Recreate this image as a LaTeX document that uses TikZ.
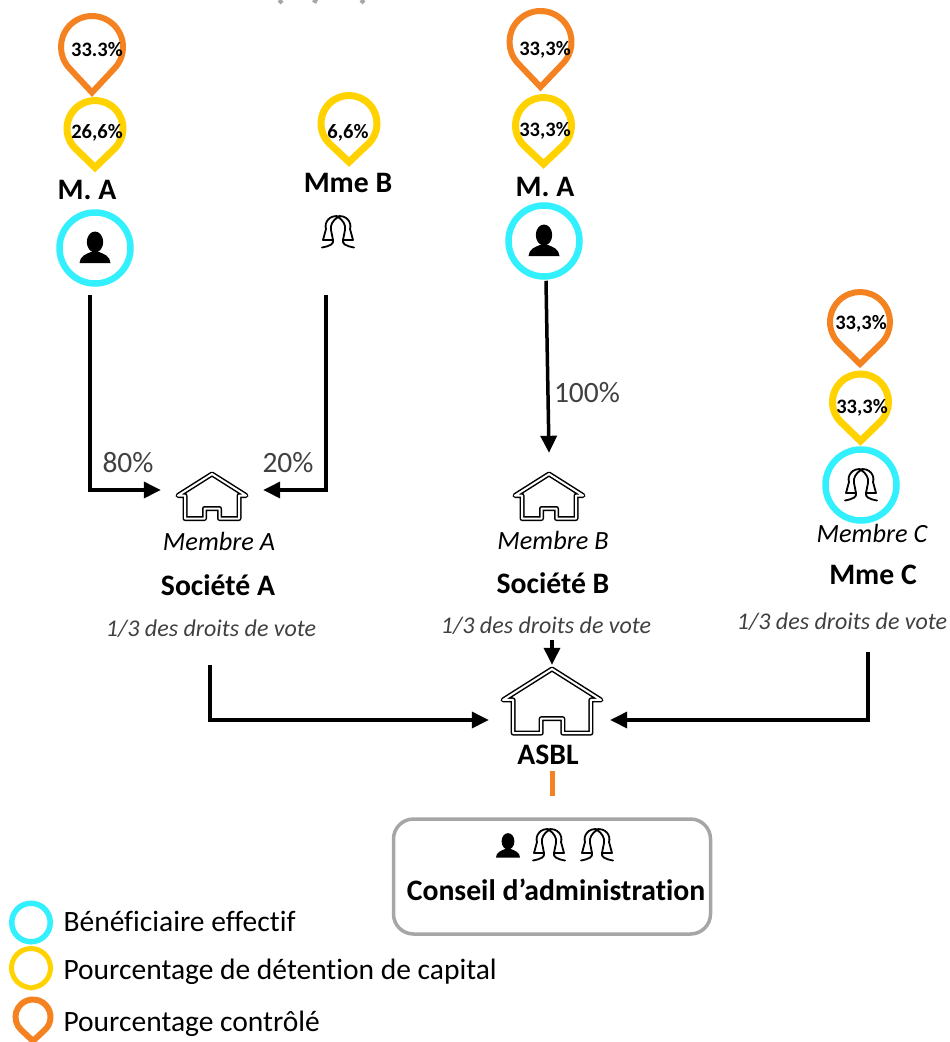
\documentclass[tikz,border=0pt]{standalone}
\usepackage{fontspec}
\setmainfont[Ligatures=CommonOff]{Carlito}
\usetikzlibrary{calc}
\usetikzlibrary{arrows.meta}
\definecolor{pinorange}{HTML}{F58220}
\definecolor{pinyellow}{HTML}{FFD200}
\definecolor{ringcyan}{HTML}{33F0FF}
\definecolor{boardgray}{HTML}{A6A6A6}
\definecolor{notegray}{HTML}{404040}
\tikzset{
	pin marker/.pic={
		\tikzset{%
			/pin/.cd,
			#1
		}
		\pgfmathsetmacro{\pinangle}{acos(\pinr/\pintip)}
		\draw [pic actions, line join=miter]
		(0,\pintip) -- (90-\pinangle:\pinr) arc [start angle=90-\pinangle, end angle=90+\pinangle-360, radius=\pinr] -- cycle;
	},
	/pin/.search also={/tikz},
	/pin/.cd,
	radius/.store in=\pinr,
	tip/.store in=\pintip,
	radius=28,
	tip=44,
}
\tikzset{
	person icon/.pic={
		\fill (0,-6) ellipse [x radius=8.2, y radius=10.5];
		\fill (-15.5,15) .. controls (-15,8) and (-9,6) .. (-4,4) -- (4,4) .. controls (9,6) and (15,8) .. (15.5,15) -- cycle;
	},
	woman icon/.pic={
		\draw [line width=1.8pt, line cap=round, line join=round]
		(2,-15.5) .. controls (-9,-18) and (-14,-9) .. (-12,-3) -- (-15,8) -- (-5,8) .. controls (-4,12) and (-8,14) .. (-16,15.5)
		(-2,-15.5) .. controls (9,-18) and (14,-9) .. (12,-3) -- (15,8) -- (5,8) .. controls (4,12) and (8,14) .. (16,15.5)
		(0,-15) .. controls (-5,-12) and (-8,-7) .. (-7,-2) -- (-5,8)
		(0,-15) .. controls (5,-12) and (8,-7) .. (7,-2) -- (5,8);
	},
	house icon/.pic={
		\draw [double, double distance=2pt, line width=1.5pt, line join=round]
		(0,0) -- (34,21.5) -- (27,21.5) -- (27,44.5) -- (7.5,44.5) -- (7.5,34.5) -- (-7.5,34.5) -- (-7.5,44.5) -- (-27,44.5) -- (-27,21.5) -- (-34,21.5) -- cycle;
	},
	orange pin/.style={draw=pinorange, line width=6pt},
	yellow pin/.style={draw=pinyellow, line width=7pt},
	cyan ring/.style={circle, draw=ringcyan, line width=6.5pt, minimum size=71pt, inner sep=0pt},
	house spot/.style={minimum width=72pt, minimum height=32pt, inner sep=0pt},
	percent/.style={font=\fontsize{20.5}{24}\selectfont\bfseries},
	owner/.style={font=\fontsize{29.7}{34}\selectfont\bfseries},
	member/.style={font=\fontsize{26.3}{30}\selectfont\itshape},
	votes/.style={font=\fontsize{24}{28}\selectfont\itshape, text=notegray},
	share/.style={font=\fontsize{29.5}{34}\selectfont, text=notegray},
	legend/.style={font=\fontsize{29.5}{34}\selectfont, anchor=west},
	flow/.style={line width=3.5pt, -{Triangle[length=17pt,width=16pt]}},
}
\begin{document}
\begin{tikzpicture}[x=1pt,y=-1pt]
	\useasboundingbox (0,0) rectangle (950,1042);
	\draw [boardgray, line width=4pt] (279,0) -- (282,3) (313,0) -- (317,2) (364,0) -- (361,3);
	% pins
	\pic [orange pin] at (92,47) {pin marker={radius=31,tip=45.5}};
	\pic [yellow pin] at (95,128.5) {pin marker={radius=28,tip=39}};
	\pic [yellow pin] at (349,123.5) {pin marker={radius=28,tip=38.5}};
	\pic [orange pin] at (540.5,42) {pin marker={radius=31,tip=45}};
	\pic [yellow pin] at (543.5,125.5) {pin marker={radius=28,tip=38.5}};
	\pic [orange pin] at (860,322) {pin marker={radius=30,tip=42}};
	\pic [yellow pin] at (860.5,402) {pin marker={radius=28,tip=39}};
	\node [percent] (pctAo) at (97,50) {33.3\%};
	\node [percent] (pctAy) at (97,133) {26,6\%};
	\node [percent] (pctBy) at (348,133) {6,6\%};
	\node [percent] (pctDo) at (545,50) {33,3\%};
	\node [percent] (pctDy) at (545,131) {33,3\%};
	\node [percent] (pctCo) at (861,324) {33,3\%};
	\node [percent] (pctCy) at (862,408) {33,3\%};
	% people
	\node [owner] (nameA) at (87,190) {M. A};
	\node [owner] (nameB) at (348,183) {Mme B};
	\node [owner] (nameD) at (545,187) {M. A};
	\node [cyan ring] (mA) at (95,248) {};
	\pic at (mA) {person icon};
	\coordinate (mB) at (338,232);
	\pic at (mB) {woman icon};
	\node [cyan ring] (mD) at (544,241) {};
	\pic at (mD) {person icon};
	\node [cyan ring] (mC) at (861,485) {};
	\pic at (mC) {woman icon};
	% companies
	\node [house spot] (socA) at (212,490) {};
	\pic at (212,474) {house icon};
	\node [house spot] (socB) at (549,490) {};
	\pic at (549,474) {house icon};
	\node [house spot, minimum width=91pt] (asbl) at (549.5,720) {};
	\pic [scale=1.44] at (552,669) {house icon};
	\node [member] (memA) at (219,541) {Membre A};
	\node [owner] (nameSA) at (218,585) {Société A};
	\node [votes] (voteA) at (211,629) {1/3 des droits de vote};
	\node [member] (memB) at (553,540) {Membre B};
	\node [owner] (nameSB) at (553,583) {Société B};
	\node [votes] (voteB) at (546,626) {1/3 des droits de vote};
	\node [member] (memC) at (872,533) {Membre C};
	\node [owner] (nameC) at (873,575) {Mme C};
	\node [votes] (voteC) at (842,622) {1/3 des droits de vote};
	\node [owner] (nameAsbl) at (548,755) {ASBL};
	% board
	\node [draw=boardgray, line width=3.5pt, rounded corners=20pt, minimum width=317pt, minimum height=115pt] (board) at (552,876.5) {};
	\pic [scale=.78] at (508,846) {person icon};
	\pic at (549,845) {woman icon};
	\pic at (597,845) {woman icon};
	\node [owner] (boardname) at (556,890) {Conseil d’administration};
	% flows
	\draw [flow, shorten <=8pt, shorten >=15pt] ([xshift=-5pt]mA.south) |- (socA.west);
	\draw [flow, shorten >=15pt] (326,295) coordinate (startB) |- (socA.east);
	\draw [flow] ([xshift=2pt,yshift=-1pt]mD.south) -- ([yshift=21pt]socB.north);
	\draw [flow] ([xshift=3pt,yshift=-2pt]voteB.south -| socB.north) -- ([yshift=39pt,xshift=2.5pt]asbl.north);
	\draw [flow, shorten >=15pt] (210,665) coordinate (startA) |- (asbl.west);
	\draw [flow, shorten >=15pt] (868,652) coordinate (startC) |- (asbl.east);
	\draw [pinorange, line width=5pt, shorten <=3pt, shorten >=21pt] (nameAsbl.south -| board.north) -- (board.north);
	\node [share] (p80) at (128,463) {80\%};
	\node [share] (p20) at (288,463) {20\%};
	\node [share] (p100) at (587,393) {100\%};
	% legend
	\node [circle, draw=ringcyan, line width=5.5pt, minimum size=38.5pt, inner sep=0pt] (keyC) at (31,922.5) {};
	\pic [yellow pin, line width=5pt] at (31,968) {pin marker={radius=19.5,tip=20}};
	\pic [orange pin] at (33,1017) {pin marker={radius=17.5,tip=24}};
	\node [legend] (keyCtext) at (60,921) {Bénéficiaire effectif};
	\node [legend] (keyYtext) at (60,972) {Pourcentage de détention de capital};
	\node [legend] (keyOtext) at (60,1024) {Pourcentage contrôlé};
\end{tikzpicture}
\end{document}
